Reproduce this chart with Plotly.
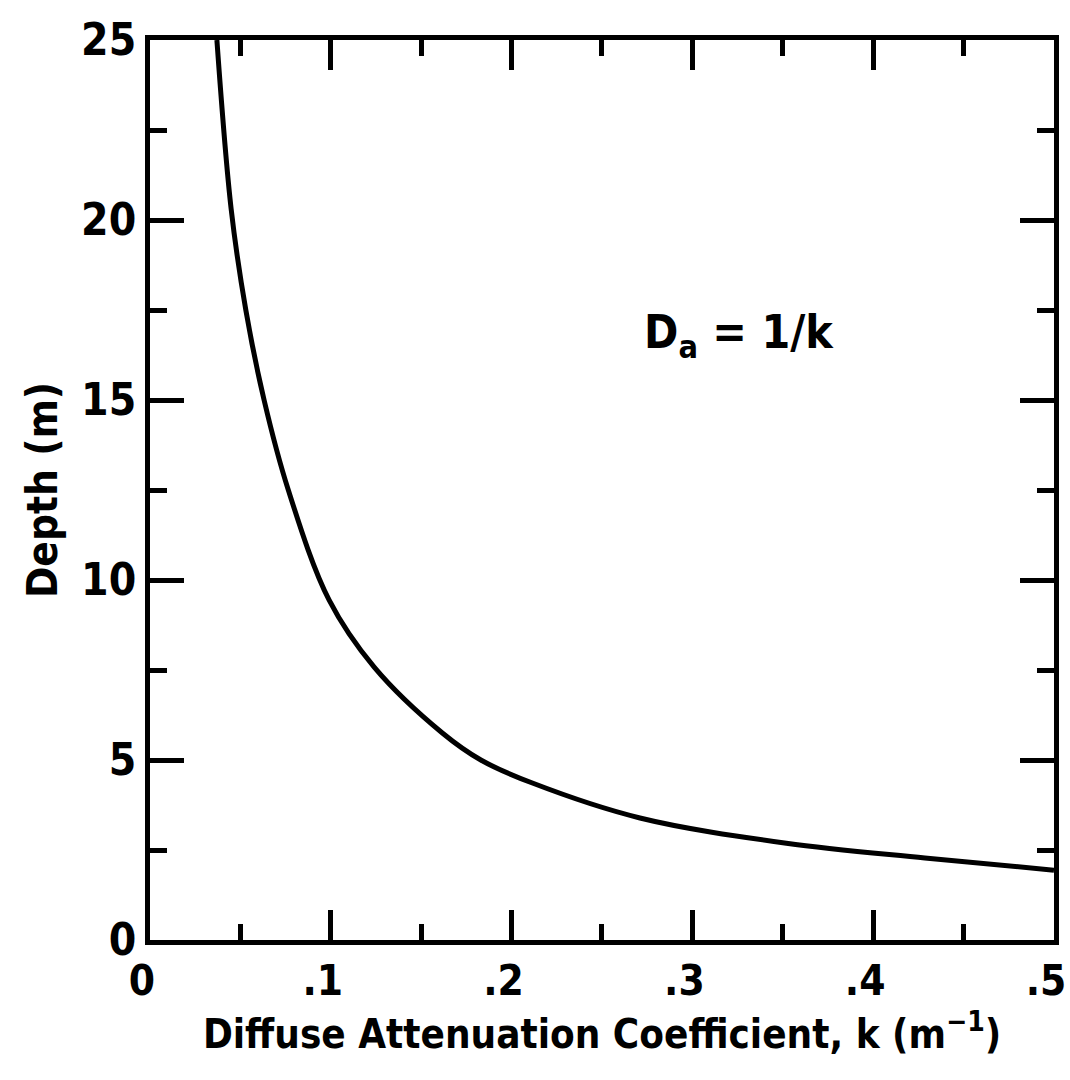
import plotly.graph_objects as go

# Data (k in m^-1, depth in m)
k_values = [0.037, 0.0449, 0.053, 0.0631, 0.0765, 0.0991, 0.124,
            0.1617, 0.183, 0.2115, 0.271, 0.352, 0.4286, 0.5]
depth_values = [25.0, 20.3, 17.5, 15.0, 12.5, 9.44, 7.58,
                5.75, 5.0, 4.36, 3.39, 2.69, 2.28, 1.94]

x_tickvals = [0, 0.1, 0.2, 0.3, 0.4, 0.5]
x_ticktext = ["0", ".1", ".2", ".3", ".4", ".5"]
y_tickvals = [0, 5, 10, 15, 20, 25]
y_ticktext = ["0", "5", "10", "15", "20", "25"]

FONT = "DejaVu Sans Condensed, Liberation Sans Narrow, Liberation Sans, sans-serif"

fig = go.Figure()
fig.add_trace(go.Scatter(
    x=k_values, y=depth_values, mode="lines",
    line=dict(color="black", width=5, shape="spline", smoothing=1.0),
    showlegend=False, hoverinfo="skip",
))

axis_common = dict(
    showgrid=False, zeroline=False, automargin=False,
    showline=True, linecolor="black", linewidth=5, mirror="ticks",
    ticks="inside", tickcolor="black", tickwidth=5,
    ticklabeloverflow="allow",
)

fig.update_xaxes(
    range=[0, 0.50001], tickmode="array", tickvals=x_tickvals, ticktext=x_ticktext,
    ticklen=30, ticklabelshift=-8,
    tickfont=dict(family=FONT, size=42, color="black", weight="bold"),
    minor=dict(ticks="inside", dtick=0.05, tick0=0, ticklen=16, tickwidth=5,
               tickcolor="black", showgrid=False),
    title=dict(text="Diffuse Attenuation Coefficient, k (m<sup>−1</sup>)",
               font=dict(family=FONT, size=40, color="black", weight="bold"),
               standoff=4),
    **axis_common,
)
fig.update_yaxes(
    range=[0, 25], tickmode="array", tickvals=y_tickvals, ticktext=y_ticktext,
    ticklen=34,
    tickfont=dict(family=FONT, size=44, color="black", weight="bold"),
    minor=dict(ticks="inside", dtick=2.5, tick0=0, ticklen=17, tickwidth=5,
               tickcolor="black", showgrid=False),
    title=dict(text="Depth (m)",
               font=dict(family=FONT, size=42, color="black", weight="bold"),
               standoff=12),
    **axis_common,
)

fig.add_annotation(
    x=0.326, y=16.8, xref="x", yref="y",
    text="<b>D<sub>a</sub> = 1/k</b>", showarrow=False,
    font=dict(family=FONT, size=46, color="black"),
    xanchor="center", yanchor="middle",
)

fig.update_layout(
    width=1070, height=1080,
    margin=dict(l=150, r=16, t=40, b=140),
    paper_bgcolor="white", plot_bgcolor="white",
)

fig.write_html("out.html")
